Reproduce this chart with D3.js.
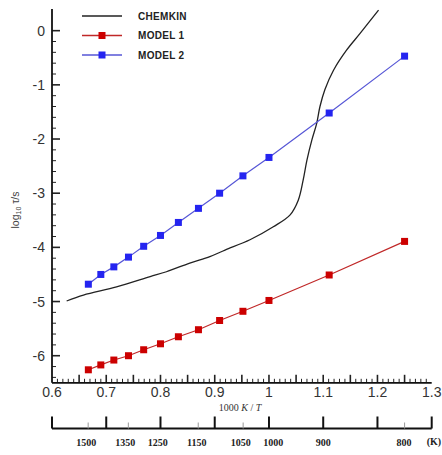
<!DOCTYPE html>
<html>
<head>
<meta charset="utf-8">
<script src="https://cdn.jsdelivr.net/npm/d3@7"></script>
<style>
  body { margin: 0; background: #fff; }
  svg { display: block; font-family: "Liberation Sans", Arial, sans-serif; }
</style>
</head>
<body>
<svg id="chart" width="442" height="455"></svg>
<script>
// data
var invT = [0.667, 0.690, 0.714, 0.741, 0.769, 0.800, 0.833, 0.870, 0.909, 0.952, 1.000, 1.111, 1.250];
var model1 = [-6.26, -6.17, -6.08, -6.00, -5.89, -5.78, -5.65, -5.52, -5.35, -5.18, -4.98, -4.51, -3.89];
var model2 = [-4.68, -4.50, -4.36, -4.18, -3.98, -3.78, -3.54, -3.28, -3.00, -2.68, -2.34, -1.52, -0.47];

var chemX = [0.627, 0.658, 0.719, 0.781, 0.811, 0.854, 0.891, 0.919, 0.965, 1.008, 1.039, 1.054, 1.063, 1.070, 1.079, 1.088, 1.094, 1.103, 1.119, 1.143, 1.168, 1.202];
var chemY = [-4.99, -4.88, -4.73, -4.54, -4.45, -4.29, -4.17, -4.05, -3.86, -3.62, -3.40, -3.13, -2.76, -2.39, -2.02, -1.71, -1.40, -1.09, -0.73, -0.36, -0.05, 0.38];

// temperature scale under the plot: labels and where they sit (in 1000/T units)
var tempLabels = [1500, 1350, 1250, 1150, 1050, 1000, 900, 800];
var tempLabelAt = [0.663, 0.735, 0.795, 0.867, 0.948, 1.008, 1.100, 1.249];
var tempMinor = [1500, 1350, 1150, 1050, 800];
var yTicks = [0, -1, -2, -3, -4, -5, -6];
var xTicks = [0.6, 0.7, 0.8, 0.9, 1, 1.1, 1.2, 1.3];

var LEFT = 52, RIGHT = 431.7, TOP = 9, BOTTOM = 382.8;
var svg = d3.select("#chart");

var x = d3.scaleLinear().domain([0.6, 1.3]).range([LEFT, RIGHT]);
var y = d3.scaleLinear().domain([-6.5, 0.4]).range([BOTTOM, TOP]);

// minor / major ticks on the main axes (drawn inward)
var g = svg.append("g");
d3.range(1, 70).forEach(function(i){
    var v = 0.6 + i * 0.01;
    var len = (i % 5 === 0) ? 8 : 4;
    g.append("line").attr("x1", x(v)).attr("x2", x(v))
        .attr("y1", BOTTOM).attr("y2", BOTTOM - len)
        .attr("stroke", "#222").attr("stroke-width", len > 4 ? 1.6 : 1);
});
d3.range(0, 33).forEach(function(i){
    var v = -6.4 + i * 0.2;
    if (v > 0.35) return;
    var major = Math.abs(v - Math.round(v)) < 1e-6;
    var len = major ? 8 : 4;
    g.append("line").attr("x1", LEFT).attr("x2", LEFT + len)
        .attr("y1", y(v)).attr("y2", y(v))
        .attr("stroke", "#222").attr("stroke-width", major ? 1.6 : 1);
});

// axis lines
g.append("line").attr("x1", LEFT).attr("x2", LEFT).attr("y1", TOP).attr("y2", BOTTOM)
    .attr("stroke", "#111").attr("stroke-width", 1.8);
g.append("line").attr("x1", LEFT).attr("x2", RIGHT).attr("y1", BOTTOM).attr("y2", BOTTOM)
    .attr("stroke", "#111").attr("stroke-width", 1.8);

// tick labels
g.selectAll(".ytl").data(yTicks).enter().append("text")
    .attr("x", LEFT - 7).attr("y", function(d){ return y(d); }).attr("dy", "0.36em")
    .attr("text-anchor", "end").attr("font-size", 14).attr("fill", "#333")
    .text(function(d){ return d === 0 ? "0" : "-" + Math.abs(d); });
g.selectAll(".xtl").data(xTicks).enter().append("text")
    .attr("x", function(d){ return x(d); }).attr("y", BOTTOM + 14)
    .attr("text-anchor", "middle").attr("font-size", 14).attr("fill", "#333")
    .text(function(d){ return d3.format("")(d); });

// axis titles
svg.append("text").attr("x", 240).attr("y", 411).attr("text-anchor", "middle")
    .attr("font-family", "Liberation Serif, serif").attr("font-size", 10).attr("fill", "#333")
    .html('1000 <tspan font-style="italic">K</tspan> / <tspan font-style="italic">T</tspan>');
svg.append("text").attr("transform", "translate(19,210) rotate(-90)").attr("text-anchor", "middle")
    .attr("font-size", 10.5).attr("fill", "#444")
    .html('log<tspan font-size="7" dy="2">10</tspan><tspan dy="-2"> τ/s</tspan>');

// temperature axis
var TY = 428.5;
var tg = svg.append("g");
tg.append("line").attr("x1", LEFT).attr("x2", RIGHT).attr("y1", TY).attr("y2", TY)
    .attr("stroke", "#111").attr("stroke-width", 2);
tg.selectAll(".tmaj").data(xTicks).enter().append("line")
    .attr("x1", function(d){ return x(d); }).attr("x2", function(d){ return x(d); })
    .attr("y1", TY).attr("y2", TY - 12).attr("stroke", "#111").attr("stroke-width", 2);
tg.selectAll(".tmin").data(tempMinor).enter().append("line")
    .attr("x1", function(d){ return x(1000 / d); }).attr("x2", function(d){ return x(1000 / d); })
    .attr("y1", TY).attr("y2", TY - 6).attr("stroke", "#999").attr("stroke-width", 1);
tg.selectAll(".tl").data(tempLabels).enter().append("text")
    .attr("x", function(d, i){ return x(tempLabelAt[i]); }).attr("y", TY + 17)
    .attr("text-anchor", "middle").attr("font-family", "Liberation Serif, serif")
    .attr("font-weight", "bold").attr("font-size", 10).attr("fill", "#222")
    .text(function(d){ return d; });
tg.append("text").attr("x", 434).attr("y", TY + 16).attr("text-anchor", "middle")
    .attr("font-family", "Liberation Serif, serif").attr("font-weight", "bold")
    .attr("font-size", 10).attr("fill", "#222").text("(K)");

// series
var line = d3.line().x(function(d){ return x(d[0]); }).y(function(d){ return y(d[1]); });

svg.append("path").datum(d3.zip(chemX, chemY))
    .attr("d", line.curve(d3.curveCatmullRom)).attr("fill", "none")
    .attr("stroke", "#222").attr("stroke-width", 1.3);
line.curve(d3.curveLinear);

var series = [
    { vals: model1, line: "#c02828", mark: "#cc0000" },
    { vals: model2, line: "#5656d6", mark: "#2424f0" }
];
series.forEach(function(s){
    var pts = d3.zip(invT, s.vals);
    svg.append("path").datum(pts).attr("d", line).attr("fill", "none")
        .attr("stroke", s.line).attr("stroke-width", 1.2);
    svg.selectAll(null).data(pts).enter().append("rect")
        .attr("x", function(d){ return x(d[0]) - 3.5; }).attr("y", function(d){ return y(d[1]) - 3.5; })
        .attr("width", 7).attr("height", 7).attr("fill", s.mark);
});

// legend
var legend = [
    { name: "CHEMKIN", line: "#222", mark: null },
    { name: "MODEL 1", line: "#c02828", mark: "#cc0000" },
    { name: "MODEL 2", line: "#5656d6", mark: "#2424f0" }
];
var lg = svg.append("g");
legend.forEach(function(d, i){
    var ly = 16 + i * 19.5;
    lg.append("line").attr("x1", 82).attr("x2", 122).attr("y1", ly).attr("y2", ly)
        .attr("stroke", d.line).attr("stroke-width", 1.3);
    if (d.mark) lg.append("rect").attr("x", 98.5).attr("y", ly - 3.5)
        .attr("width", 7).attr("height", 7).attr("fill", d.mark);
    lg.append("text").attr("x", 138).attr("y", ly).attr("dy", "0.35em")
        .attr("font-size", 10).attr("font-weight", "bold").attr("fill", "#222")
        .attr("letter-spacing", 0.3).text(d.name);
});
</script>
</body>
</html>
